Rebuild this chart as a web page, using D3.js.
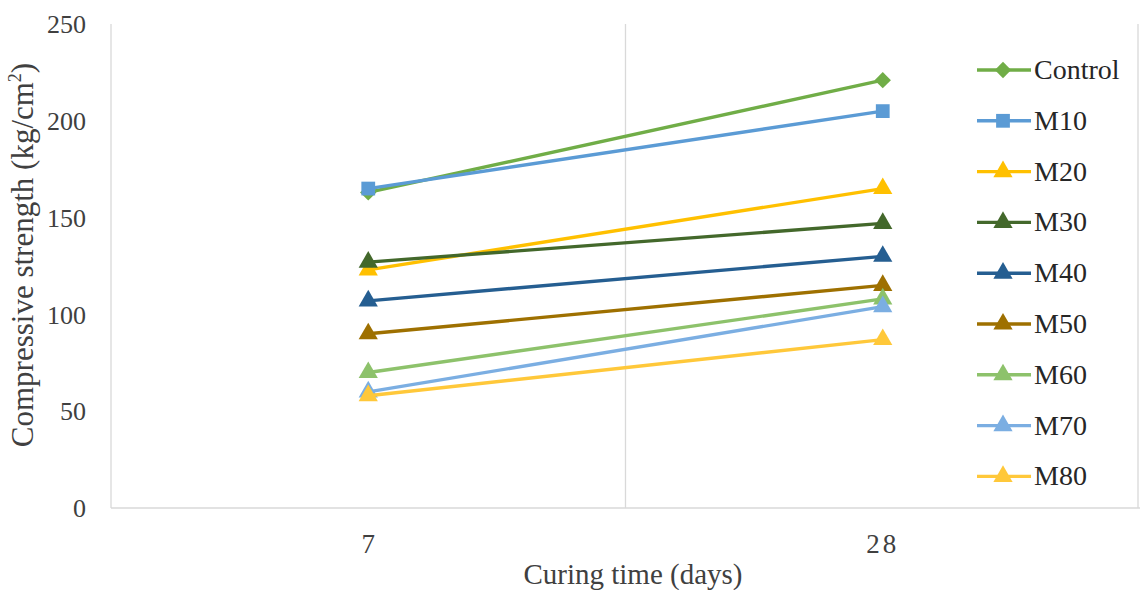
<!DOCTYPE html>
<html><head><meta charset="utf-8">
<script src="https://cdn.jsdelivr.net/npm/d3@7"></script>
<style>body{margin:0;background:#fff}svg{display:block}text{font-family:"Liberation Serif","Times New Roman",serif}</style>
</head><body>
<svg id="c" width="1141" height="590"></svg>
<script>
const categories = ["7", "28"];
const seriesNames = ["Control","M10","M20","M30","M40","M50","M60","M70","M80"];
const control = [163, 221];
const m10 = [165, 205];
const m20 = [123, 165];
const m30 = [127, 147];
const m40 = [107, 130];
const m50 = [90, 115];
const m60 = [70, 108];
const m70 = [60, 104];
const m80 = [58, 87];
const yTicks = [0, 50, 100, 150, 200, 250];
const colors = ["#70AD47","#5B9BD5","#FFC000","#43682B","#255E91","#9E7000","#8DC26B","#7BAEE2","#FFC83A"];
const shapes = ["diamond","square","triangle","triangle","triangle","triangle","triangle","triangle","triangle"];
const allValues = [control, m10, m20, m30, m40, m50, m60, m70, m80];

const svg = d3.select("#c");
const font = "Liberation Serif";
const x = d3.scaleBand().domain(categories).range([111, 1140]);
const y = d3.scaleLinear().domain([0, 250]).range([508, 24]);

const bounds = [111, 111 + x.bandwidth(), 1138];
svg.selectAll("line.vg").data(bounds).enter().append("line")
  .attr("x1", d => d).attr("x2", d => d).attr("y1", y(250)).attr("y2", y(0))
  .attr("stroke", "#d9d9d9").attr("stroke-width", 1.3);
svg.append("line").attr("x1", 111).attr("x2", 1140).attr("y1", y(0)).attr("y2", y(0))
  .attr("stroke", "#d9d9d9").attr("stroke-width", 1.3);

svg.selectAll("text.yt").data(yTicks).enter().append("text")
  .attr("x", 86).attr("y", d => y(d)).attr("dy", "0.35em")
  .attr("text-anchor", "end").attr("font-family", font).attr("font-size", 26).attr("fill", "#404040")
  .text(d => d);
svg.selectAll("text.xt").data(categories).enter().append("text")
  .attr("x", d => x(d) + x.bandwidth() / 2).attr("y", 553)
  .attr("text-anchor", "middle").attr("font-family", font).attr("font-size", 27).attr("fill", "#404040")
  .attr("letter-spacing", d => d.length > 1 ? 3 : 0)
  .text(d => d);
svg.append("text").attr("x", 633).attr("y", 584).attr("text-anchor", "middle")
  .attr("font-family", font).attr("font-size", 29).attr("fill", "#404040").text("Curing time (days)");
const yt = svg.append("text").attr("transform", "translate(33,255) rotate(-90)").attr("text-anchor", "middle")
  .attr("font-family", font).attr("font-size", 31).attr("fill", "#404040");
yt.append("tspan").text("Compressive strength (kg/cm");
yt.append("tspan").attr("font-size", 18).attr("dy", -12).text("2");
yt.append("tspan").attr("dy", 12).text(")");

function symbolFor(s) {
  if (s === "diamond") return d3.symbol().type(d3.symbolDiamond2).size(170)();
  if (s === "square") return d3.symbol().type(d3.symbolSquare).size(190)();
  return d3.symbol().type(d3.symbolTriangle).size(160)();
}

const line = d3.line().x((d, i) => x(categories[i]) + x.bandwidth() / 2).y(d => y(d));
allValues.forEach((vals, k) => {
  const g = svg.append("g");
  g.append("path").attr("d", line(vals)).attr("fill", "none").attr("stroke", colors[k]).attr("stroke-width", 3.4);
  g.selectAll("path.m").data(vals).enter().append("path")
    .attr("d", symbolFor(shapes[k]))
    .attr("transform", (d, i) => `translate(${x(categories[i]) + x.bandwidth() / 2},${y(d)})`)
    .attr("fill", colors[k]);
});

const lg = svg.append("g");
seriesNames.forEach((n, i) => {
  const ly = 70 + i * 50.8;
  lg.append("line").attr("x1", 977).attr("x2", 1031).attr("y1", ly).attr("y2", ly)
    .attr("stroke", colors[i]).attr("stroke-width", 3.4);
  lg.append("path").attr("d", symbolFor(shapes[i]))
    .attr("transform", `translate(1003,${ly})`)
    .attr("fill", colors[i]);
  lg.append("text").attr("x", 1034).attr("y", ly + 9)
    .attr("font-family", font).attr("font-size", 28).attr("fill", "#262626").text(n);
});
</script>
</body></html>
